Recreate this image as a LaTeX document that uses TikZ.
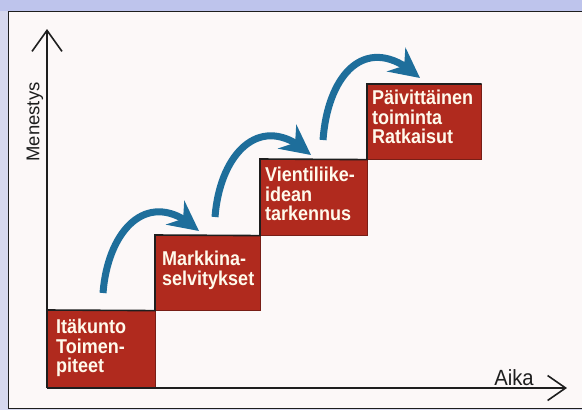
\documentclass[tikz,border=0pt]{standalone}
\usepackage{fontspec}
\setmainfont{Liberation Sans}
\newfontfamily\boxfont[FakeStretch=0.9]{Liberation Sans}
\newfontfamily\axisfont[FakeStretch=0.92]{Liberation Sans}
\usetikzlibrary{arrows.meta,bending}
\definecolor{boxred}{RGB}{176,42,30}
\definecolor{boxedge}{RGB}{120,30,22}
\definecolor{arrowblue}{RGB}{30,110,155}
\definecolor{paper}{RGB}{252,248,248}
\definecolor{bandtop}{RGB}{190,196,236}
\definecolor{bandleft}{RGB}{214,216,238}
\definecolor{boxtext}{RGB}{255,250,236}
\definecolor{ink}{RGB}{30,30,30}
\tikzset{
  redbox/.style={fill=boxred, draw=boxedge, line width=0.6pt, anchor=north west, inner sep=0pt},
  boxlabel/.style={anchor=north west, inner sep=0pt, align=left, text=boxtext,
    font=\boxfont\bfseries\fontsize{20}{19.5}\selectfont},
  stair/.style={draw=ink, line width=1.6pt},
  axis/.style={draw=ink, line width=1.6pt},
  jump/.style={draw=arrowblue, line width=7pt,
    -{Stealth[length=30pt,width=30pt,inset=10pt]}},
}
\begin{document}
\begin{tikzpicture}[x=1pt,y=-1pt]
\useasboundingbox (0,0) rectangle (582,410);
% background bands and frame
\fill[bandleft] (0,0) rectangle (582,410);
\fill[bandtop] (0,0) rectangle (582,11);
\fill[paper] (8,11) rectangle (590,408);
\draw[ink, line width=0.8pt] (590,11) -- (8,11) -- (8,408) -- (590,408);

% boxes
\node[redbox, minimum width=108pt, minimum height=78pt] (b1) at (47,310) {};
\node[redbox, minimum width=105pt, minimum height=75pt] (b2) at (155,235) {};
\node[redbox, minimum width=107pt, minimum height=76pt] (b3) at (260,159) {};
\node[redbox, minimum width=114pt, minimum height=75pt] (b4) at (367,84) {};

% stair line
\draw[stair] (b1.north west) -- (b2.south west) -- (b2.north west)
  -- (b3.south west) -- (b3.north west) -- (b4.south west)
  -- (b4.north west) -- (b4.north east);

% box texts
\node[boxlabel] (t1) at (56,319) {Itäkunto\\Toimen-\\piteet};
\node[boxlabel] (t2) at (162,251) {Markkina-\\selvitykset};
\node[boxlabel] (t3) at (265,167) {Vientiliike-\\idean\\tarkennus};
\node[boxlabel] (t4) at (372,90) {Päivittäinen\\toiminta\\Ratkaisut};

% axes
\coordinate (o) at (47,388);
\coordinate (ytip) at (47,29);
\coordinate (xtip) at (567,388);
\draw[axis, -{Straight Barb[length=21pt,width=30pt,line width=1.6pt]}] (o) -- (ytip);
\draw[axis, -{Straight Barb[length=18pt,width=25pt,line width=1.6pt]}] (o) -- (xtip);
\node[rotate=90, text=ink, font=\fontsize{18.5}{20}\selectfont] (ylab) at (35,122) {Menestys};
\node[anchor=base, text=ink, inner sep=0pt, font=\axisfont\fontsize{22}{24}\selectfont] (xlab) at (514,385) {Aika};

% jump arrows
\coordinate (a1s) at (103,293);
\coordinate (a1e) at (199,231);
\coordinate (a2s) at (215,217);
\coordinate (a2e) at (311,155);
\coordinate (a3s) at (323,140);
\coordinate (a3e) at (420,78);
\draw[jump] (a1s) .. controls +(5,-65) and +(-49,-46) .. (a1e);
\draw[jump] (a2s) .. controls +(5,-65) and +(-49,-46) .. (a2e);
\draw[jump] (a3s) .. controls +(5,-68) and +(-52,-48) .. (a3e);
\end{tikzpicture}
\end{document}
